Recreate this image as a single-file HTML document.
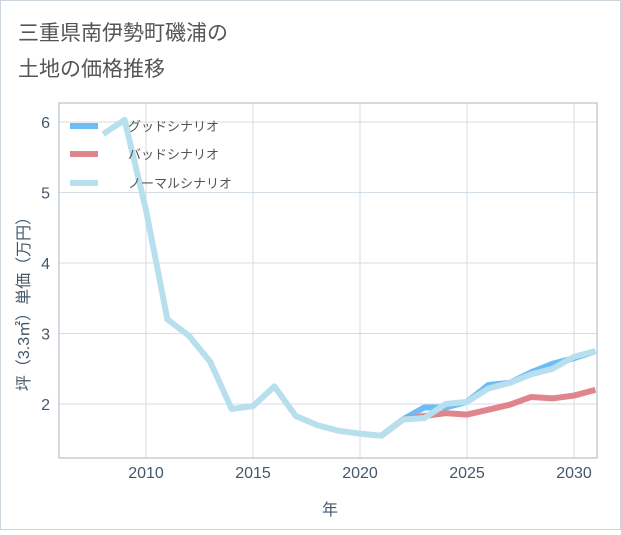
<!DOCTYPE html>
<html><head><meta charset="utf-8"><style>
body{margin:0;background:#fff;font-family:"Liberation Sans","Noto Sans CJK JP",sans-serif}
</style></head><body>
<svg width="621" height="530" xmlns="http://www.w3.org/2000/svg">
<rect x="0.5" y="0.5" width="620" height="529" fill="#fff" stroke="#ccd4dd"/>
<text x="18" y="40" font-size="21" fill="#555" font-family="Liberation Sans,Noto Sans CJK JP,sans-serif">三重県南伊勢町磯浦の</text>
<text x="18" y="76" font-size="21" fill="#555" font-family="Liberation Sans,Noto Sans CJK JP,sans-serif">土地の価格推移</text>
<g id="grid"></g>
<rect x="59" y="103" width="538" height="355" fill="none" stroke="#aab4bf"/>
<g id="series"></g>
<g id="axes"></g>
<text transform="translate(29,300) rotate(-90)" text-anchor="middle" font-size="16" fill="#44586b" font-family="Liberation Sans,Noto Sans CJK JP,sans-serif">坪（3.3㎡）単価（万円）</text>
<text x="330" y="515" text-anchor="middle" font-size="16" fill="#44586b" font-family="Liberation Sans,Noto Sans CJK JP,sans-serif">年</text>
<g font-size="13" fill="#555" font-family="Liberation Sans,Noto Sans CJK JP,sans-serif">
<line x1="70" y1="126" x2="98" y2="126" stroke="#6cbcf5" stroke-width="6"/>
<text x="128" y="131">グッドシナリオ</text>
<line x1="70" y1="154" x2="98" y2="154" stroke="#e0858e" stroke-width="6"/>
<text x="128" y="159">バッドシナリオ</text>
<line x1="70" y1="183" x2="98" y2="183" stroke="#b8dfee" stroke-width="6"/>
<text x="128" y="188">ノーマルシナリオ</text>
</g>
</svg>
<script>
const normalYears=[2008,2009,2010,2011,2012,2013,2014,2015,2016,2017,2018,2019,2020,2021,2022,2023,2024,2025,2026,2027,2028,2029,2030,2031];
const normalValues=[5.83,6.03,4.75,3.2,2.97,2.6,1.93,1.97,2.25,1.83,1.7,1.62,1.58,1.55,1.78,1.8,2.0,2.03,2.22,2.3,2.42,2.5,2.67,2.75];
const scenarioYears=[2021,2022,2023,2024,2025,2026,2027,2028,2029,2030,2031];
const goodValues=[1.55,1.78,1.95,1.95,2.03,2.27,2.3,2.45,2.57,2.65,2.75];
const badValues=[1.55,1.78,1.83,1.87,1.85,1.92,1.99,2.1,2.08,2.12,2.2];
const xTicks=[2010,2015,2020,2025,2030];
const yTicks=[2,3,4,5,6];
const NS="http://www.w3.org/2000/svg";
const X0=59,X1=597,Y0=103,Y1=458;
function xs(v){return 146+(v-2010)*21.4;}
function ys(v){return 404-(v-2)*70.5;}
const grid=document.getElementById('grid'),axes=document.getElementById('axes'),ser=document.getElementById('series');
xTicks.forEach(t=>{
 const l=document.createElementNS(NS,'line');
 l.setAttribute('x1',xs(t));l.setAttribute('x2',xs(t));l.setAttribute('y1',Y0);l.setAttribute('y2',Y1);
 l.setAttribute('stroke','#d5dde6');
 
 
 grid.appendChild(l);
 const tx=document.createElementNS(NS,'text');
 tx.setAttribute('x',xs(t));tx.setAttribute('y',478);tx.setAttribute('text-anchor','middle');
 tx.setAttribute('font-size','16');tx.setAttribute('fill','#44586b');tx.textContent=t;
 
 
 axes.appendChild(tx);
});
yTicks.forEach(t=>{
 const l=document.createElementNS(NS,'line');
 l.setAttribute('x1',X0);l.setAttribute('x2',X1);l.setAttribute('y1',ys(t));l.setAttribute('y2',ys(t));
 l.setAttribute('stroke','#d5dde6');
 
 
 grid.appendChild(l);
 const tx=document.createElementNS(NS,'text');
 tx.setAttribute('x',50);tx.setAttribute('y',ys(t)+6);tx.setAttribute('text-anchor','end');
 tx.setAttribute('font-size','16');tx.setAttribute('fill','#44586b');tx.textContent=t;
 
 
 axes.appendChild(tx);
});
function line(xsArr,vals,color,name){
 const p=document.createElementNS(NS,'polyline');
 p.setAttribute('points',xsArr.map((y,i)=>xs(y)+','+ys(vals[i])).join(' '));
 p.setAttribute('fill','none');p.setAttribute('stroke',color);p.setAttribute('stroke-width','6');
 p.setAttribute('stroke-linejoin','round');
 
 
 ser.appendChild(p);
}
const cp=document.createElementNS(NS,'clipPath');cp.setAttribute('id','clip');
const cr=document.createElementNS(NS,'rect');cr.setAttribute('x',X0);cr.setAttribute('y',Y0);cr.setAttribute('width',X1-X0);cr.setAttribute('height',Y1-Y0);
cp.appendChild(cr);document.querySelector('svg').appendChild(cp);
ser.setAttribute('clip-path','url(#clip)');
line(scenarioYears,goodValues,'#6cbcf5','good-scenario-line');
line(scenarioYears,badValues,'#e0858e','bad-scenario-line');
line(normalYears,normalValues,'#b8dfee','normal-scenario-line');
</script>
</body></html>
